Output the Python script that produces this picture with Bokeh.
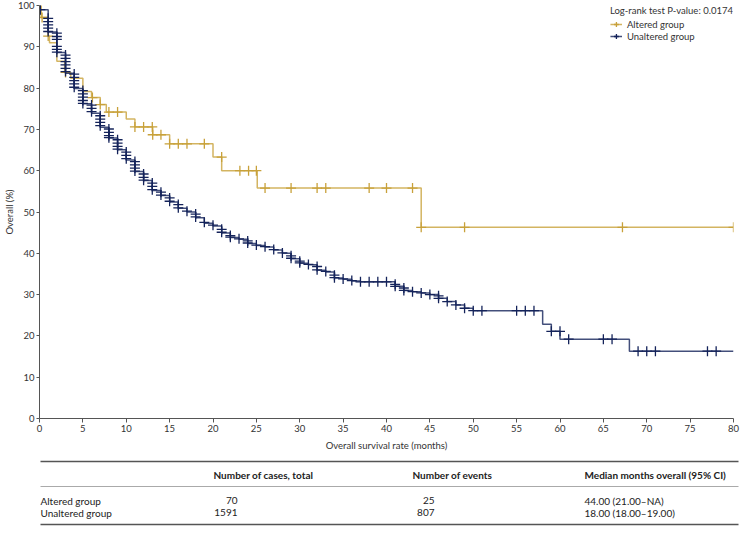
from bokeh.plotting import figure
from bokeh.models import Range1d, Legend, LegendItem, FixedTicker
from bokeh.embed import file_html
from bokeh.resources import INLINE
from bokeh.core.properties import value

FONT = "Lato"

# ---------------- data ----------------
x_ticks = [0, 5, 10, 15, 20, 25, 30, 35, 40, 45, 50, 55, 60, 65, 70, 75, 80]
y_ticks = [0, 10, 20, 30, 40, 50, 60, 70, 80, 90, 100]

# Altered group: Kaplan-Meier step points (months, survival %)
alt_time = [0, 0.2, 1.0, 1.15, 2.0, 2.9, 3.6, 5.0, 6.0, 7.0, 7.7, 10.0, 11.0,
            13.05, 15.0, 20.0, 21.0, 25.1, 44.0, 80.0]
alt_surv = [100, 97.1, 92.6, 91.0, 86.5, 83.8, 82.4, 79.2, 77.7, 76.0, 74.2, 72.5, 70.6,
            68.7, 66.5, 63.3, 60.0, 55.8, 46.3, 46.3]
# Altered group censor marks
alt_cens_time = [0.3, 1.0, 3.0, 6.1, 7.0, 8.0, 9.0, 11.0, 12.0, 13.0, 13.05, 14.0,
                 15.0, 16.0, 17.0, 19.0, 21.0, 23.1, 24.1, 25.0, 26.0, 29.0, 32.0,
                 33.0, 38.0, 40.0, 43.0, 44.0, 49.0, 67.2, 80.0]
alt_cens_surv = [97.1, 92.6, 83.8, 77.7, 76.0, 74.2, 74.2, 70.6, 70.6, 70.6, 68.7, 68.7,
                 66.5, 66.5, 66.5, 66.5, 63.3, 60.0, 60.0, 60.0, 55.8, 55.8, 55.8,
                 55.8, 55.8, 55.8, 55.8, 46.3, 46.3, 46.3, 46.3]

# Unaltered group: Kaplan-Meier step points
unalt_time = [0, 0.05, 1, 2, 3, 4, 5, 6, 7, 8, 9, 10, 11, 12, 13, 14, 15, 16, 17, 18,
              19, 20, 21, 22, 23, 24, 25, 26, 27, 28, 29, 30, 31, 32, 33, 34, 35, 36,
              37, 41, 42, 43, 44, 45, 46, 47, 48, 49, 50, 58, 59, 60, 68, 80]
unalt_surv = [100, 99.0, 93.6, 88.6, 83.6, 79.9, 76.2, 73.9, 70.5, 67.9, 65.1, 62.6,
              59.8, 57.6, 55.2, 54.0, 52.4, 50.9, 50.0, 48.6, 47.3, 46.6, 44.9, 43.8,
              43.4, 42.4, 41.9, 41.5, 40.8, 40.0, 38.7, 37.6, 37.2, 35.9, 35.5, 34.0,
              33.7, 33.3, 33.1, 32.0, 31.0, 30.7, 30.4, 30.0, 29.1, 28.3, 27.5, 26.7,
              26.1, 22.8, 21.1, 19.2, 16.3, 16.3]
# Unaltered group censor marks: month -> survival levels of the marks at that month
unalt_cens_month = [0.1, 1, 2, 3, 4, 5, 6, 7, 8, 9, 10, 11, 12, 13, 14, 15, 16, 17, 18,
                    19, 20, 21, 22, 23, 24, 25, 26, 27, 28, 29, 30, 31, 32, 33, 34, 35,
                    36, 37, 38, 39, 40, 41, 42, 43, 44, 45, 46, 47, 48, 49, 50, 51, 55,
                    56, 57, 59, 60, 61, 65, 66, 69, 70, 71, 77, 78]
unalt_cens_levels = [
    [99.0],
    [96.9, 96.1, 95.3, 94.5, 93.7],
    [93.3, 92.5, 91.8, 90.1, 89.4, 88.7],
    [88.0, 87.2, 86.4, 85.6, 84.8, 84.0],
    [83.4, 82.6, 81.8, 81.0, 80.2],
    [79.4, 78.6, 77.8, 77.0, 76.3],
    [75.9, 75.1, 74.3],
    [73.3, 72.5, 71.7, 70.9],
    [70.1, 69.3, 68.5, 68.0],
    [67.5, 66.7, 65.9, 65.2],
    [64.5, 63.7, 62.9],
    [62.2, 61.4, 60.6, 59.9],
    [59.2, 58.4, 57.7],
    [57.0, 56.2, 55.4],
    [54.8, 54.1],
    [53.4, 52.6],
    [51.8, 51.0],
    [50.2],
    [49.5, 48.8],
    [47.5],
    [46.8],
    [45.8, 45.1],
    [44.3, 43.9],
    [43.5],
    [43.0, 42.5],
    [42.0],
    [41.6],
    [40.9],
    [40.1],
    [39.4, 38.8],
    [38.1, 37.7],
    [37.3],
    [36.8, 36.0],
    [35.6],
    [34.7, 34.1],
    [33.8],
    [33.4],
    [33.1], [33.1], [33.1], [33.1],
    [32.5, 32.0],
    [31.6, 31.0],
    [30.7],
    [30.4],
    [30.0],
    [29.7, 29.1],
    [28.3],
    [27.5],
    [26.7],
    [26.1], [26.1], [26.1], [26.1], [26.1],
    [21.1], [21.1],
    [19.2], [19.2], [19.2],
    [16.3], [16.3], [16.3], [16.3], [16.3],
]

legend_title = "Log-rank test P-value: 0.0174"
group_names = ["Altered group", "Unaltered group"]

table_headers = ["Number of cases, total", "Number of events", "Median months overall (95% CI)"]
table_cases = ["70", "1591"]
table_events = ["25", "807"]
table_median = ["44.00 (21.00\u2013NA)", "18.00 (18.00\u201319.00)"]

# ---------------- styles ----------------
ALT = "#c8a13a"
UNALT = "#14235a"
TXT = "#333333"

u_ct, u_cs = [], []
for m, levels in zip(unalt_cens_month, unalt_cens_levels):
    for s in levels:
        u_ct.append(m)
        u_cs.append(s)

W = 740
p = figure(width=W, height=454, output_backend="svg", toolbar_location=None,
           x_range=Range1d(0, 80), y_range=Range1d(0, 100),
           min_border_left=39, min_border_right=7, min_border_top=5, min_border_bottom=36)
p.outline_line_color = None
p.xgrid.visible = False
p.ygrid.visible = False

alt_line = p.step(alt_time, alt_surv, mode="after", line_color=ALT, line_width=1.5, line_alpha=0.8)
alt_marks = p.scatter(alt_cens_time, alt_cens_surv, marker="cross", size=10,
                      line_color=ALT, line_width=1.3)
un_line = p.step(unalt_time, unalt_surv, mode="after", line_color=UNALT, line_width=1.5, line_alpha=0.8)
un_marks = p.scatter(u_ct, u_cs, marker="cross", size=10, line_color=UNALT, line_width=1.3)

for ax in (p.xaxis[0], p.yaxis[0]):
    ax.axis_line_color = "#555555"
    ax.major_tick_line_color = "#555555"
    ax.minor_tick_line_color = None
    ax.major_tick_in = 0
    ax.major_label_text_font = FONT
    ax.major_label_text_font_size = "9.5px"
    ax.major_label_text_color = TXT
    ax.axis_label_text_font = FONT
    ax.axis_label_text_font_size = "9.5px"
    ax.axis_label_text_font_style = "normal"
    ax.axis_label_text_color = TXT

p.xaxis.ticker = FixedTicker(ticks=x_ticks)
p.yaxis.ticker = FixedTicker(ticks=y_ticks)
p.xaxis.axis_label = "Overall survival rate (months)"
p.yaxis.axis_label = "Overall (%)"
p.xaxis.major_tick_out = 4
p.yaxis.major_tick_out = 3
p.xaxis.major_label_standoff = 2
p.yaxis.major_label_standoff = 2
p.xaxis.axis_label_standoff = 5
p.yaxis.axis_label_standoff = 0

legend = Legend(items=[LegendItem(label=group_names[0], renderers=[alt_line, alt_marks]),
                       LegendItem(label=group_names[1], renderers=[un_line, un_marks])],
                title=legend_title, location="top_right")
legend.title_text_font = FONT
legend.title_text_font_size = "9.5px"
legend.title_text_font_style = "normal"
legend.title_text_color = TXT
legend.title_standoff = 2
legend.label_text_font = FONT
legend.label_text_font_size = "9.5px"
legend.label_text_color = TXT
legend.glyph_width = 12
legend.glyph_height = 12
legend.label_height = 12
legend.label_standoff = 5
legend.spacing = 0
legend.padding = 0
legend.margin = 0
legend.border_line_color = None
legend.background_fill_alpha = 0
p.add_layout(legend)

# ---------------- table ----------------
TH = 72
t = figure(width=W, height=TH, output_backend="svg", toolbar_location=None,
           x_range=Range1d(0, W), y_range=Range1d(TH, 0),
           x_axis_type=None, y_axis_type=None,
           min_border=0, min_border_left=0, min_border_right=0,
           min_border_top=0, min_border_bottom=0)
t.xgrid.visible = False
t.ygrid.visible = False
t.outline_line_color = None

x0, x1 = 40, 738
t.segment(x0=[x0, x0], y0=[7, 70], x1=[x1, x1], y1=[7, 70], line_color="#555555", line_width=1.5)
t.segment(x0=[x0], y0=[32], x1=[x1], y1=[32], line_color="#aaaaaa", line_width=1)

col_left = [213, 412, 584]
t.text(x=col_left, y=[20, 20, 20], text=table_headers, text_font=value(FONT),
       text_font_size=value("10px"), text_font_style="bold", text_color="#222222",
       text_align="left", text_baseline="middle")
row_y = [46, 58]
t.text(x=[x0, x0], y=row_y, text=group_names, text_font=value(FONT),
       text_font_size=value("10px"), text_color="#222222", text_align="left", text_baseline="middle")
t.text(x=[237, 237], y=row_y, text=table_cases, text_font=value(FONT),
       text_font_size=value("10px"), text_color="#222222", text_align="right", text_baseline="middle")
t.text(x=[434, 434], y=row_y, text=table_events, text_font=value(FONT),
       text_font_size=value("10px"), text_color="#222222", text_align="right", text_baseline="middle")
t.text(x=[584, 584], y=row_y, text=table_median, text_font=value(FONT),
       text_font_size=value("10px"), text_color="#222222", text_align="left", text_baseline="middle")

open("out.html", "w").write(file_html([p, t], INLINE))
